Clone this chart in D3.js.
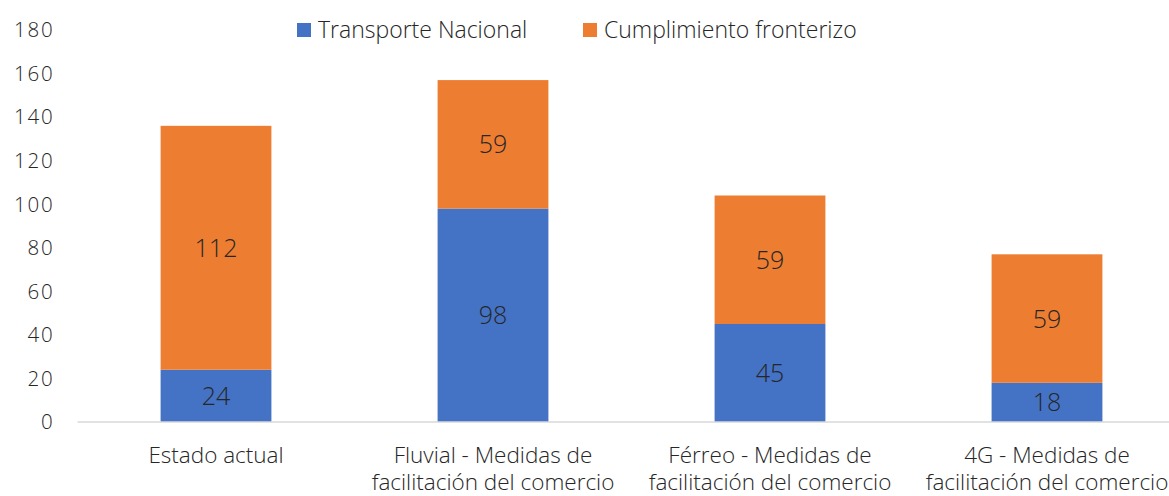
<!DOCTYPE html>
<html><head><meta charset="utf-8">
<script src="https://cdn.jsdelivr.net/npm/d3@7"></script>
<style>body{margin:0;background:#fff;overflow:hidden}svg{display:block}text{font-family:"Open Sans",sans-serif;font-weight:300;fill:#262626}</style>
</head><body><svg id="c" width="1169" height="496"></svg>
<script>
const categories = [["Estado actual"],["Fluvial - Medidas de","facilitación del comercio"],["Férreo - Medidas de","facilitación del comercio"],["4G - Medidas de","facilitación del comercio"]];
const seriesNames = ["Transporte Nacional","Cumplimiento fronterizo"];
const transporte = [24, 98, 45, 18];
const cumplimiento = [112, 59, 59, 59];
const colors = ["#4472C4","#ED7D31"];
const yTicks = [0,20,40,60,80,100,120,140,160,180];

const svg = d3.select("#c");
const x = d3.scaleBand().domain(d3.range(categories.length)).range([77.5, 1185.5]).paddingInner(0.6).paddingOuter(0.3);
const y = d3.scaleLinear().domain([0,180]).range([422, 30]);

const data = categories.map((c,i)=>({i, t:transporte[i], c:cumplimiento[i]}));
const stack = d3.stack().keys(["t","c"])(data);

// y axis labels
svg.append("g").selectAll("text").data(yTicks).join("text")
  .attr("x", 54.5).attr("y", d=>y(d)).attr("dy","0.36em")
  .attr("text-anchor","end").style("font-size","20.5px").style("letter-spacing","1.8px").text(d=>d);

// bars
stack.forEach((s,k)=>{
  const g = svg.append("g");
  g.selectAll("rect").data(s).join("rect")
    .attr("x", d=>x(d.data.i)).attr("width", x.bandwidth())
    .attr("y", d=>y(d[1])).attr("height", d=>y(d[0])-y(d[1]))
    .attr("fill", colors[k]);
  g.selectAll("text").data(s).join("text")
    .attr("x", d=>x(d.data.i)+x.bandwidth()/2)
    .attr("y", d=>(y(d[0])+y(d[1]))/2).attr("dy","0.36em")
    .attr("text-anchor","middle").style("font-size","25px")
    .text(d=>d[1]-d[0]);
});

// baseline
svg.append("line").attr("x1",77.5).attr("x2",1169).attr("y1",y(0)).attr("y2",y(0))
  .attr("stroke","#D9D9D9").attr("stroke-width",1.5);

// category labels
const cl = svg.append("g").selectAll("text").data(categories).join("text")
  .attr("text-anchor","middle").style("font-size","22.5px")
  .attr("transform",(d,i)=>`translate(${x(i)+x.bandwidth()/2},0)`);
cl.selectAll("tspan").data(d=>d).join("tspan").attr("x",0)
  .attr("y",(d,j)=>463+j*27).text(d=>d);

// legend
const legendX = [297, 583];
const lg = svg.append("g").selectAll("g").data(seriesNames).join("g")
  .attr("transform",(d,i)=>`translate(${legendX[i]},0)`);
lg.append("rect").attr("x",0).attr("y",23).attr("width",14).attr("height",14).attr("fill",(d,i)=>colors[i]);
lg.append("text").attr("x",21).attr("y",30).attr("dy","0.36em").style("font-size","23px").text(d=>d);
</script></body></html>
